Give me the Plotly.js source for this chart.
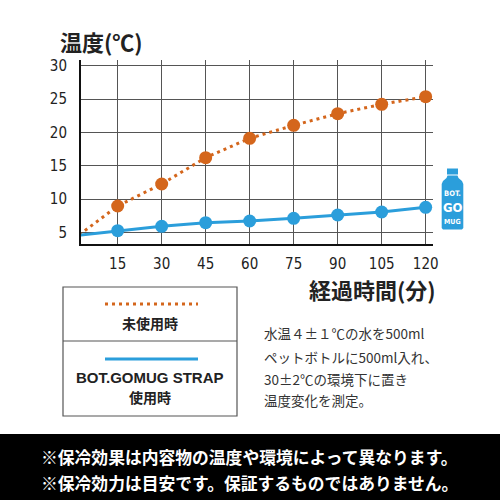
<!DOCTYPE html>
<html>
<head>
<meta charset="utf-8">
<script src="https://cdn.plot.ly/plotly-3.0.1.min.js"></script>
<style>html,body{margin:0;padding:0;background:#fff;}#chart{width:500px;height:500px;}</style>
</head>
<body>
<div id="chart"></div>
<script>
// ---- data ----
const times = [0, 15, 30, 45, 60, 75, 90, 105, 120];
const withoutStrap = [4.0, 8.95, 12.25, 16.2, 19.1, 21.05, 22.8, 24.2, 25.35];
const withStrap = [4.5, 5.25, 5.9, 6.45, 6.7, 7.1, 7.6, 8.05, 8.75];
const xTickVals = [15, 30, 45, 60, 75, 90, 105, 120];
const yTickVals = [5, 10, 15, 20, 25, 30];
const seriesNames = ['未使用時', 'BOT.GOMUG STRAP<br>使用時'];
const yTitle = '温度(℃)';
const xTitle = '経過時間(分)';
const noteLines = ['水温４±１℃の水を500ml', 'ペットボトルに500ml入れ、', '30±2℃の環境下に置き', '温度変化を測定。'];
const footLines = ['※保冷効果は内容物の温度や環境によって異なります。', '※保冷効力は目安です。保証するものではありません。'];

// ---- styling ----
const ORANGE = '#d4661c';
const BLUE = '#2b9edb';
const JP = '"Noto Sans CJK JP", "Noto Sans", sans-serif';
const NUM = '"Liberation Sans Narrow", "DejaVu Sans Condensed", "Roboto", sans-serif';
const L = 81, R = 433, T = 60, B = 244;
const px = x => (x - L) / (R - L);
const py = y => (B - y) / (B - T);

const traces = [
  {x: times, y: withoutStrap, mode: 'lines+markers', name: seriesNames[0],
   line: {color: ORANGE, width: 3, dash: '3px,4px'}, marker: {color: ORANGE, size: 13}},
  {x: times, y: withStrap, mode: 'lines+markers', name: seriesNames[1],
   line: {color: BLUE, width: 3}, marker: {color: BLUE, size: 13}}
];

const shapes = [];
const annotations = [];
// footer band
shapes.push({type: 'rect', xref: 'paper', yref: 'paper', x0: px(0), x1: px(500), y0: py(434), y1: py(501),
  fillcolor: '#000', line: {width: 0}, layer: 'below'});
// legend box
shapes.push({type: 'rect', xref: 'paper', yref: 'paper', x0: px(63), x1: px(237), y0: py(287), y1: py(416),
  fillcolor: 'rgba(0,0,0,0)', line: {color: '#555', width: 1.2}});
shapes.push({type: 'line', xref: 'paper', yref: 'paper', x0: px(63), x1: px(237), y0: py(341), y1: py(341),
  line: {color: '#555', width: 1.2}});
shapes.push({type: 'line', xref: 'paper', yref: 'paper', x0: px(105), x1: px(198), y0: py(304), y1: py(304),
  line: {color: ORANGE, width: 3, dash: '3px,4px'}});
shapes.push({type: 'line', xref: 'paper', yref: 'paper', x0: px(105), x1: px(198), y0: py(359), y1: py(359),
  line: {color: BLUE, width: 3}});
// bottle icon
function pathFrom(pts) {
  return 'M' + pts.map(p => px(p[0]).toFixed(4) + ',' + py(p[1]).toFixed(4)).join(' L') + ' Z';
}
shapes.push({type: 'path', xref: 'paper', yref: 'paper', fillcolor: BLUE, line: {width: 0},
  path: pathFrom([[447, 168.5], [458, 168.5], [458, 174.5], [447, 174.5]])});
shapes.push({type: 'path', xref: 'paper', yref: 'paper', fillcolor: BLUE, line: {width: 0},
  path: pathFrom([[447.5, 175.5], [457.5, 175.5], [458.5, 178], [462, 181], [463.3, 184], [463.3, 228], [462, 229.5],
    [443, 229.5], [441.7, 228], [441.7, 184], [443, 181], [446.5, 178]])});
annotations.push({xref: 'paper', yref: 'paper', x: px(452.5), y: py(193), text: '<b>BOT.</b>', showarrow: false,
  xanchor: 'center', yanchor: 'middle', font: {family: NUM, size: 7.5, color: '#fff'}});
annotations.push({xref: 'paper', yref: 'paper', x: px(452.5), y: py(207.5), text: '<b>GO</b>', showarrow: false,
  xanchor: 'center', yanchor: 'middle', font: {family: NUM, size: 13, color: '#fff'}});
annotations.push({xref: 'paper', yref: 'paper', x: px(452.5), y: py(221.5), text: '<b>MUG</b>', showarrow: false,
  xanchor: 'center', yanchor: 'middle', font: {family: NUM, size: 7, color: '#fff'}});
// titles
annotations.push({xref: 'paper', yref: 'paper', x: px(58), y: py(41), text: '<b>' + yTitle + '</b>', showarrow: false,
  xanchor: 'left', yanchor: 'middle', font: {family: JP, size: 22, color: '#222'}});
annotations.push({xref: 'paper', yref: 'paper', x: px(438), y: py(289), text: '<b>' + xTitle + '</b>', showarrow: false,
  xanchor: 'right', yanchor: 'middle', font: {family: JP, size: 22, color: '#222'}});
// legend labels
annotations.push({xref: 'paper', yref: 'paper', x: px(150), y: py(323), text: '<b>' + seriesNames[0] + '</b>', showarrow: false,
  xanchor: 'center', yanchor: 'middle', font: {family: JP, size: 14, color: '#222'}});
annotations.push({xref: 'paper', yref: 'paper', x: px(150), y: py(377), text: '<b>BOT.GOMUG STRAP</b>', showarrow: false,
  xanchor: 'center', yanchor: 'middle', font: {family: '"Liberation Sans", Arial, sans-serif', size: 15, color: '#222'}});
annotations.push({xref: 'paper', yref: 'paper', x: px(150), y: py(397), text: '<b>使用時</b>', showarrow: false,
  xanchor: 'center', yanchor: 'middle', font: {family: JP, size: 14, color: '#222'}});
// note
const noteY = [333, 356.5, 378.5, 399.5];
noteLines.forEach((t, i) => annotations.push({xref: 'paper', yref: 'paper', x: px(262), y: py(noteY[i]), text: t,
  showarrow: false, xanchor: 'left', yanchor: 'middle', font: {family: JP, size: 13.5, color: '#333'}}));
// footer
const footY = [457.5, 482.5];
footLines.forEach((t, i) => annotations.push({xref: 'paper', yref: 'paper', x: px(249), y: py(footY[i]), text: '<b>' + t + '</b>',
  showarrow: false, xanchor: 'center', yanchor: 'middle', font: {family: JP, size: 16.8, color: '#fff'}}));

const layout = {
  width: 500, height: 500,
  margin: {l: L, r: 500 - R, t: T, b: 500 - B, pad: 0},
  paper_bgcolor: '#fff', plot_bgcolor: '#fff',
  showlegend: false,
  xaxis: {range: [2.5, 122.5], tickvals: xTickVals, showgrid: true, gridcolor: '#555', gridwidth: 1,
    zeroline: false, showline: true, linecolor: '#111', linewidth: 2, ticks: '', ticklabelstandoff: 5,
    tickfont: {family: NUM, size: 15, color: '#222'}, fixedrange: true},
  yaxis: {range: [3.25, 30.85], tickvals: yTickVals, showgrid: true, gridcolor: '#555', gridwidth: 1,
    zeroline: false, showline: true, linecolor: '#111', linewidth: 2, ticks: '', ticklabelstandoff: 9,
    tickfont: {family: NUM, size: 15, color: '#222'}, fixedrange: true},
  shapes: shapes,
  annotations: annotations
};
Plotly.newPlot('chart', traces, layout, {displayModeBar: false, staticPlot: true});
</script>
</body>
</html>
